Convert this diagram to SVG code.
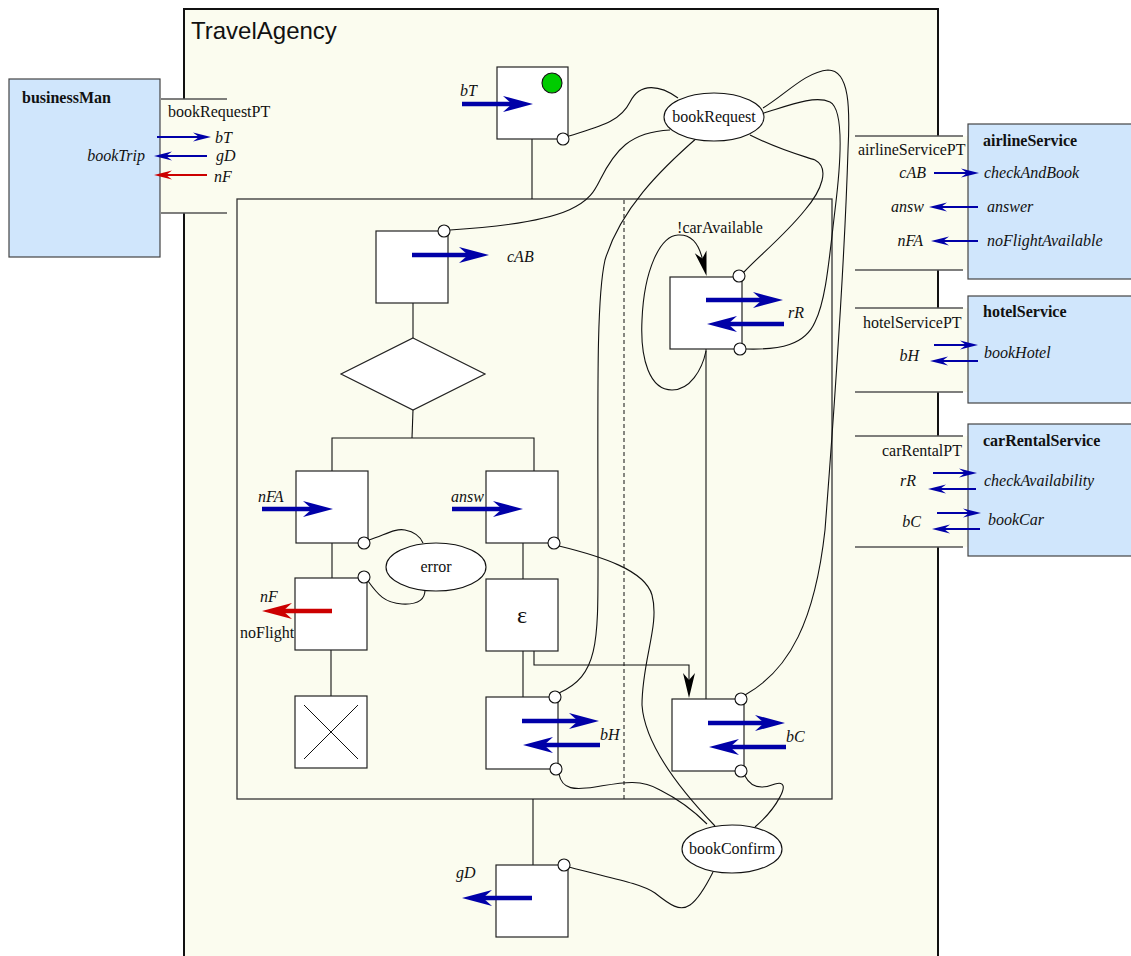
<svg xmlns="http://www.w3.org/2000/svg" width="1131" height="956" viewBox="0 0 1131 956">
<style>
.frame{fill:#fbfcef;stroke:#111;stroke-width:2}
.scope{fill:none;stroke:#333;stroke-width:1.3}
.svc{fill:#d0e6fc;stroke:#444;stroke-width:1.2}
.port{fill:#fbfcef;stroke:none}
.pl{stroke:#555;stroke-width:1.5}
.box{fill:#fff;stroke:#222;stroke-width:1.2}
.conn{fill:none;stroke:#111;stroke-width:1.1}
.pc{fill:#fff;stroke:#111;stroke-width:1.1}
.tb{stroke:#0000a8;stroke-width:4.5;fill:none;marker-end:url(#hb)}
.tr{stroke:#cc0000;stroke-width:4.5;fill:none;marker-end:url(#hr)}
.nb{stroke:#0000a8;stroke-width:2;fill:none;marker-end:url(#sb)}
.nr{stroke:#cc0000;stroke-width:2;fill:none;marker-end:url(#sr)}
.ell{fill:#fff;stroke:#111;stroke-width:1.1}
text{font-family:"Liberation Serif","Times New Roman",serif;font-size:16px;fill:#111}
.it{font-style:italic}
.bd{font-weight:bold}
.sans{font-family:"Liberation Sans",Arial,sans-serif;font-size:24px}
</style>
<defs>
<marker id="hb" markerUnits="userSpaceOnUse" viewBox="-10 -9 32 18" refX="0" refY="0" markerWidth="32" markerHeight="18" orient="auto" overflow="visible"><path d="M0,0 L-9,-8 L21,0 L-9,8 Z" fill="#0000a8"/></marker>
<marker id="hr" markerUnits="userSpaceOnUse" viewBox="-10 -9 32 18" refX="0" refY="0" markerWidth="32" markerHeight="18" orient="auto" overflow="visible"><path d="M0,0 L-9,-8 L21,0 L-9,8 Z" fill="#cc0000"/></marker>
<marker id="sb" markerUnits="userSpaceOnUse" viewBox="-7 -5 20 10" refX="0" refY="0" markerWidth="20" markerHeight="10" orient="auto" overflow="visible"><path d="M0,0 L-6,-4.5 L12,0 L-6,4.5 Z" fill="#0000a8"/></marker>
<marker id="sr" markerUnits="userSpaceOnUse" viewBox="-7 -5 20 10" refX="0" refY="0" markerWidth="20" markerHeight="10" orient="auto" overflow="visible"><path d="M0,0 L-6,-4.5 L12,0 L-6,4.5 Z" fill="#cc0000"/></marker>
<marker id="hk" markerUnits="userSpaceOnUse" viewBox="-8 -7 27 14" refX="0" refY="0" markerWidth="27" markerHeight="14" orient="auto" overflow="visible"><path d="M0,0 L-7,-6 L18,0 L-7,6 Z" fill="#000"/></marker>
</defs>

<g id="TravelAgency">
<rect class="frame" x="184" y="9" width="754" height="960"/>
<text class="sans" x="191" y="39">TravelAgency</text>
<rect class="scope" x="237" y="199" width="595" height="600"/>
<line x1="624" y1="200" x2="624" y2="799" stroke="#111" stroke-width="1" stroke-dasharray="4,3"/>
</g>

<g id="connectors">
<line class="conn" x1="532" y1="139" x2="532" y2="199"/>
<line class="conn" x1="413" y1="303" x2="413" y2="338"/>
<line class="conn" x1="413" y1="410" x2="412" y2="438"/>
<polyline class="conn" points="332,471 332,438 534,438 534,471"/>
<line class="conn" x1="332" y1="543" x2="332" y2="578"/>
<line class="conn" x1="331" y1="650" x2="331" y2="696"/>
<line class="conn" x1="523" y1="543" x2="523" y2="579"/>
<line class="conn" x1="523" y1="651" x2="523" y2="697"/>
<path class="conn" d="M534,651 V665 H689 V680" marker-end="url(#hk)"/>
<line class="conn" x1="706" y1="349" x2="706" y2="699"/>
<path class="conn" d="M706,351 C702,370 690,390 672,390 C650,390 640,360 642,320 C644,270 660,236 678,235 C692,234 699,245 702.3,258.6" marker-end="url(#hk)"/>
<line class="conn" x1="533" y1="799" x2="533" y2="865"/>
<path class="conn" d="M569,136 C600,126 620,122 630,102 C640,82 660,85 678,98"/>
<path class="conn" d="M670,130 C630,132 615,150 600,180 C590,200 580,222 450,230"/>
<path class="conn" d="M698,137 C660,170 620,210 605,260 C596,300 598,400 598,550 C598,640 600,675 559,693"/>
<path class="conn" d="M750,135 C780,150 800,155 815,160 C830,168 822,190 805,210 C785,235 760,255 744,272"/>
<path class="conn" d="M764,113 C790,105 815,95 830,102 C845,110 840,170 835,210 C829,260 826,300 815,322 C805,345 780,350 746,349"/>
<path class="conn" d="M763,108 C785,95 805,72 828,70 C850,70 850,110 848,150 C845,250 835,400 825,530 C815,620 790,670 745,695"/>
<path class="conn" d="M559,546 C600,556 645,570 652,595 C660,625 642,660 642,705 C645,750 690,800 715,826"/>
<path class="conn" d="M559,774 C562,790 575,790 595,787 C620,783 640,778 660,790 C680,800 695,812 707,824"/>
<path class="conn" d="M745,776 C752,790 765,788 775,784 C795,778 775,810 755,827"/>
<path class="conn" d="M569,867 C610,878 640,883 655,893 C670,905 680,912 690,905 C700,898 708,882 713,872"/>
<path class="conn" d="M369,540 C385,535 395,528 405,530 C415,532 420,536 423,543"/>
<path class="conn" d="M368,581 C378,595 385,603 402,604 C420,605 425,598 425,590"/>
</g>

<g id="bookRequestPT">
<rect class="port" x="161" y="99" width="66" height="114"/>
<line class="pl" x1="161" y1="99" x2="227" y2="99"/>
<line class="pl" x1="161" y1="213" x2="227" y2="213"/>
<text x="168" y="117">bookRequestPT</text>
</g>
<g id="businessMan">
<rect class="svc" x="9" y="79" width="151" height="178"/>
<text class="bd" x="22" y="103">businessMan</text>
<text class="it" x="145" y="161" text-anchor="end">bookTrip</text>
<line class="nb" x1="157" y1="137" x2="199" y2="137"/>
<line class="nb" x1="207" y1="156" x2="166" y2="156"/>
<line class="nr" x1="207" y1="175" x2="166" y2="175"/>
<text class="it" x="215" y="143">bT</text>
<text class="it" x="216" y="161">gD</text>
<text class="it" x="214" y="182">nF</text>
</g>

<g id="airlineServicePT">
<rect class="port" x="855" y="136" width="113" height="134"/>
<line class="pl" x1="855" y1="136" x2="963" y2="136"/>
<line class="pl" x1="855" y1="270" x2="963" y2="270"/>
<text x="858" y="155">airlineServicePT</text>
</g>
<g id="airlineService">
<rect class="svc" x="968" y="124" width="170" height="155"/>
<text class="bd" x="983" y="146">airlineService</text>
<text class="it" x="926" y="178" text-anchor="end">cAB</text>
<text class="it" x="924" y="212" text-anchor="end">answ</text>
<text class="it" x="923" y="246" text-anchor="end">nFA</text>
<text class="it" x="984" y="178">checkAndBook</text>
<text class="it" x="987" y="212">answer</text>
<text class="it" x="987" y="246">noFlightAvailable</text>
<line class="nb" x1="934" y1="173" x2="967" y2="173"/>
<line class="nb" x1="978" y1="207" x2="941" y2="207"/>
<line class="nb" x1="978" y1="241" x2="943" y2="241"/>
</g>

<g id="hotelServicePT">
<rect class="port" x="855" y="308" width="113" height="84"/>
<line class="pl" x1="855" y1="308" x2="963" y2="308"/>
<line class="pl" x1="855" y1="392" x2="963" y2="392"/>
<text x="863" y="328">hotelServicePT</text>
</g>
<g id="hotelService">
<rect class="svc" x="968" y="296" width="170" height="107"/>
<text class="bd" x="983" y="317">hotelService</text>
<text class="it" x="919" y="361" text-anchor="end">bH</text>
<text class="it" x="984" y="358">bookHotel</text>
<line class="nb" x1="934" y1="345" x2="966" y2="345"/>
<line class="nb" x1="978" y1="361" x2="942" y2="361"/>
</g>

<g id="carRentalPT">
<rect class="port" x="855" y="436" width="113" height="111"/>
<line class="pl" x1="855" y1="436" x2="963" y2="436"/>
<line class="pl" x1="855" y1="547" x2="963" y2="547"/>
<text x="882" y="456">carRentalPT</text>
</g>
<g id="carRentalService">
<rect class="svc" x="968" y="424" width="170" height="132"/>
<text class="bd" x="983" y="446">carRentalService</text>
<text class="it" x="916" y="486" text-anchor="end">rR</text>
<text class="it" x="921" y="527" text-anchor="end">bC</text>
<text class="it" x="984" y="486">checkAvailability</text>
<text class="it" x="988" y="525">bookCar</text>
<line class="nb" x1="933" y1="473" x2="965" y2="473"/>
<line class="nb" x1="976" y1="489" x2="940" y2="489"/>
<line class="nb" x1="937" y1="513" x2="969" y2="513"/>
<line class="nb" x1="980" y1="529" x2="944" y2="529"/>
</g>

<g id="node-bT">
<rect class="box" x="497" y="67" width="71" height="72"/>
<circle cx="552" cy="83" r="10" fill="#00cc00" stroke="#111" stroke-width="1.1"/>
<line class="tb" x1="462" y1="104" x2="512" y2="104"/>
<text class="it" x="460" y="96">bT</text>
<circle class="pc" cx="563" cy="139" r="6"/>
</g>

<g id="node-bookRequest">
<ellipse class="ell" cx="714" cy="117" rx="50" ry="24"/>
<text x="714" y="122" text-anchor="middle">bookRequest</text>
</g>

<g id="node-cAB">
<rect class="box" x="376" y="231" width="72" height="72"/>
<line class="tb" x1="412" y1="255" x2="468" y2="255"/>
<text class="it" x="507" y="262">cAB</text>
<circle class="pc" cx="444" cy="231" r="6"/>
</g>

<g id="node-decision">
<polygon class="box" points="413,338 485,374 413,410 341,374"/>
</g>

<g id="node-nFA">
<rect class="box" x="296" y="471" width="72" height="72"/>
<line class="tb" x1="262" y1="509" x2="312" y2="509"/>
<text class="it" x="258" y="502">nFA</text>
<circle class="pc" cx="364" cy="543" r="6"/>
</g>

<g id="node-answ">
<rect class="box" x="486" y="471" width="72" height="72"/>
<line class="tb" x1="452" y1="509" x2="502" y2="509"/>
<text class="it" x="451" y="502">answ</text>
<circle class="pc" cx="554" cy="543" r="6"/>
</g>

<g id="node-error">
<ellipse class="ell" cx="436" cy="567" rx="50" ry="24"/>
<text x="436" y="572" text-anchor="middle">error</text>
</g>

<g id="node-noFlight">
<rect class="box" x="295" y="578" width="72" height="72"/>
<line class="tr" x1="332" y1="611" x2="283" y2="611"/>
<text class="it" x="260" y="602">nF</text>
<text x="240" y="638">noFlight</text>
<circle class="pc" cx="364" cy="577" r="6"/>
</g>

<g id="node-end">
<rect class="box" x="295" y="696" width="72" height="72"/>
<line x1="304" y1="705" x2="358" y2="759" stroke="#111" stroke-width="1"/>
<line x1="358" y1="705" x2="304" y2="759" stroke="#111" stroke-width="1"/>
</g>

<g id="node-epsilon">
<rect class="box" x="486" y="579" width="72" height="72"/>
<text x="522" y="623" text-anchor="middle" style="font-size:24px">ε</text>
</g>

<g id="node-bH">
<rect class="box" x="486" y="697" width="72" height="72"/>
<line class="tb" x1="522" y1="721" x2="578" y2="721"/>
<line class="tb" x1="600" y1="745" x2="544" y2="745"/>
<text class="it" x="600" y="740">bH</text>
<circle class="pc" cx="555" cy="697" r="6"/>
<circle class="pc" cx="556" cy="769" r="6"/>
</g>

<g id="node-rR">
<rect class="box" x="670" y="277" width="72" height="72"/>
<line class="tb" x1="706" y1="300" x2="762" y2="300"/>
<line class="tb" x1="784" y1="324" x2="728" y2="324"/>
<text class="it" x="788" y="318">rR</text>
<text x="720" y="233" text-anchor="middle">!carAvailable</text>
<circle class="pc" cx="739" cy="276" r="6"/>
<circle class="pc" cx="740" cy="349" r="6"/>
</g>

<g id="node-bC">
<rect class="box" x="672" y="699" width="72" height="72"/>
<line class="tb" x1="708" y1="723" x2="764" y2="723"/>
<line class="tb" x1="786" y1="747" x2="730" y2="747"/>
<text class="it" x="786" y="742">bC</text>
<circle class="pc" cx="741" cy="699" r="6"/>
<circle class="pc" cx="741" cy="771" r="6"/>
</g>

<g id="node-bookConfirm">
<ellipse class="ell" cx="732" cy="849" rx="50" ry="24"/>
<text x="732" y="854" text-anchor="middle">bookConfirm</text>
</g>

<g id="node-gD">
<rect class="box" x="496" y="865" width="72" height="72"/>
<line class="tb" x1="532" y1="898" x2="483" y2="898"/>
<text class="it" x="456" y="878">gD</text>
<circle class="pc" cx="564" cy="865" r="6"/>
</g>
</svg>
